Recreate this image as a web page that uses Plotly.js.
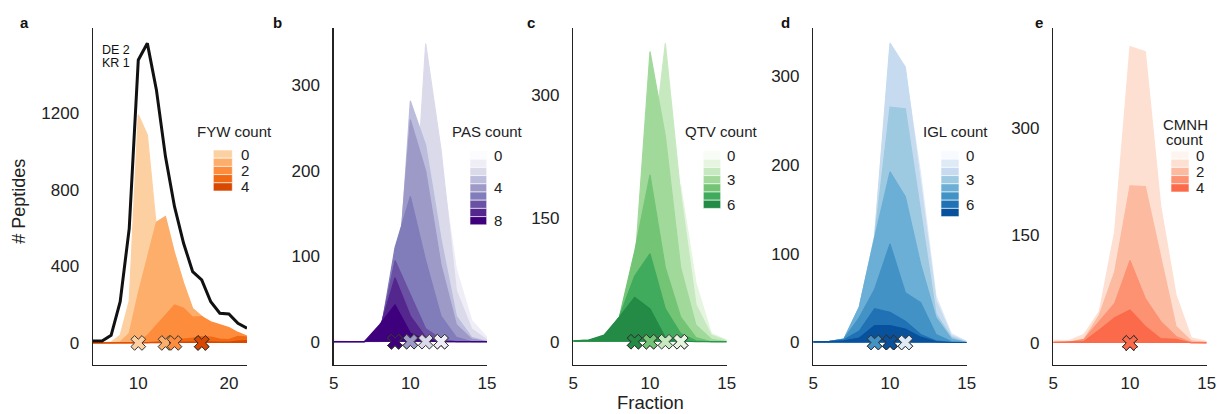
<!DOCTYPE html>
<html><head><meta charset="utf-8">
<script src="https://cdn.plot.ly/plotly-3.0.1.min.js"></script>
<style>html,body{margin:0;padding:0;background:#fff}#chart{width:1219px;height:414px}</style>
</head><body><div id="chart"></div>
<script>
// ---------------- DATA ----------------
const fracA = [5,6,7,8,9,10,11,12,13,14,15,16,17,18,19,20,21,22];
const fracB = [5,6,7,8,9,10,11,12,13,14,15];

// panel a : DE 2 / KR 1 total and FYW count
const totalDE2KR1 = [10,10,40,215,598,1476,1563,1320,972,711,520,372,329,215,155,151,103,77];
const fywLabels = ["0","1","2","3","4"];
const fywCounts = [
  [0,0,5,40,220,1190,1085,600,420,260,160,100,70,50,35,25,18,12],
  [0,0,0,5,50,260,450,630,660,470,313,180,140,100,75,60,40,25],
  [0,0,0,0,0,0,40,90,145,198,181,135,137,110,95,80,55,35],
  [0,0,0,0,0,0,2,6,10,15,20,25,33,30,20,18,35,30],
  [0,0,0,0,0,0,0,1,2,4,5,6,8,6,5,4,10,12]
];
const fywMedian = [10,13,14,17,17];

// panel b : PAS count
const pasLabels = ["0","1","2","3","4","5","6","7","8"];
const pasCounts = [
  [4,1,0,0,0,2,10,40,55,12,3],
  [2,0,0,0,1,15,120,210,85,25,5],
  [0,0,0,0,5,60,349,225,60,15,2],
  [0,0,0,1,15,282,230,120,30,5,0],
  [0,0,0,2,40,260,200,90,20,3,0],
  [0,0,0,5,110,170,95,30,5,0,0],
  [0,0,0,10,95,55,15,3,0,0,0],
  [0,0,0,15,75,30,5,0,0,0,0],
  [0,0,0,20,43,10,2,0,0,0,0]
];
const pasMedian = [12,12,11,10,10,9,9,9,9];

// panel c : QTV count
const qtvLabels = ["0","1","2","3","4","5","6"];
const qtvCounts = [
  [1,0,0,0,2,10,40,60,20,5,1],
  [1,0,1,2,10,60,200,190,71,10,2],
  [1,1,2,5,40,200,363,180,45,8,1],
  [1,1,3,15,90,353,250,90,20,3,0],
  [1,1,5,30,110,203,90,30,5,0,0],
  [1,2,6,30,80,107,40,10,1,0,0],
  [1,2,8,30,54,40,5,1,0,0,0]
];
const qtvMedian = [12,12,11,10,10,9,9];

// panel d : IGL count
const iglLabels = ["0","1","2","3","4","5","6","7"];
const iglCounts = [
  [1,1,2,5,20,60,60,30,10,2,0],
  [1,1,4,40,120,330,305,190,52,10,1],
  [1,1,4,40,120,337,310,180,47,8,1],
  [1,1,4,40,118,265,263,145,32,6,0],
  [1,1,4,40,118,192,164,88,28,4,0],
  [1,1,4,28,60,111,56,45,9,1,0],
  [1,1,3,13,38,34,24,9,2,0,0],
  [1,1,2,5,19,19,15,6,1,0,0]
];
const iglMedian = [11,11,10,10,9,9,10,10];

// panel e : CMNH count
const cmnhLabels = ["0","1","2","3","4"];
const cmnhCounts = [
  [5,3,5,20,60,150,150,80,30,5,2],
  [3,3,12,44,155,413,406,191,67,7,2],
  [1,1,5,39,99,219,218,122,23,3,1],
  [1,1,5,30,55,115,62,30,9,1,0],
  [1,1,2,18,35,46,23,6,5,0,0]
];
const cmnhMedian = [10,10,10,10,10];

// ---------------- STYLE ----------------
const W = 1219, H = 414;
const FONT = "Liberation Sans, Arial, Helvetica, sans-serif";
const oranges = ["#fdd0a2","#fdae6b","#fd8d3c","#f16913","#d94801"];
const purples = ["#fcfbfd","#efedf5","#dadaeb","#bcbddc","#9e9ac8","#807dba","#6a51a3","#54278f","#3f007d"];
const greens  = ["#f7fcf5","#e5f5e0","#c7e9c0","#a1d99b","#74c476","#41ab5d","#238b45"];
const blues   = ["#f7fbff","#deebf7","#c6dbef","#9ecae1","#6baed6","#4292c6","#2171b5","#08519c"];
const reds    = ["#fff5f0","#fee0d2","#fcbba1","#fc9272","#fb6a4a"];

const px = v => v / W;
const py = v => 1 - v / H;

const panels = [
  {key:"", x: fracA, counts: fywCounts, labels: fywLabels, med: fywMedian, colors: oranges,
   dom:[93,247], yr:[-115,1643], yt:[0,400,800,1200], xr:[5,22], xt:[10,20],
   leg:{title:["FYW count"], tx:234.5, ty:[131.7], sx:[213.3,232.3], sy:150, lx:239, show:[0,2,4]},
   letter:{t:"a", x:24.5}},
  {key:"2", x: fracB, counts: pasCounts, labels: pasLabels, med: pasMedian, colors: purples,
   dom:[333.7,487], yr:[-27.3,367.3], yt:[0,100,200,300], xr:[5,15], xt:[5,10,15],
   leg:{title:["PAS count"], tx:487, ty:[131.7], sx:[470,486.7], sy:151, lx:491.7, show:[0,4,8]},
   letter:{t:"b", x:277.7}},
  {key:"3", x: fracB, counts: qtvCounts, labels: qtvLabels, med: qtvMedian, colors: greens,
   dom:[573.3,726.7], yr:[-28.3,381.5], yt:[0,150,300], xr:[5,15], xt:[5,10,15],
   leg:{title:["QTV count"], tx:721, ty:[131.7], sx:[703.3,720.7], sy:151, lx:725, show:[0,3,6]},
   letter:{t:"c", x:531}},
  {key:"4", x: fracB, counts: iglCounts, labels: iglLabels, med: iglMedian, colors: blues,
   dom:[813.3,966.7], yr:[-25.3,354], yt:[0,100,200,300], xr:[5,15], xt:[5,10,15],
   leg:{title:["IGL count"], tx:955.5, ty:[131.7], sx:[941,959], sy:151, lx:964, show:[0,3,6]},
   letter:{t:"d", x:785}},
  {key:"5", x: fracB, counts: cmnhCounts, labels: cmnhLabels, med: cmnhMedian, colors: reds,
   dom:[1053.3,1206.7], yr:[-30.7,438.9], yt:[0,150,300], xr:[5,15], xt:[5,10,15],
   leg:{title:["CMNH","count"], tx:1185, ty:[124.5,139.5], sx:[1171,1189], sy:151, lx:1194.3, show:[0,2,4]},
   letter:{t:"e", x:1039.3}}
];

const traces = [];
const layout = {
  width: W, height: H, margin:{l:0,r:0,t:0,b:0},
  paper_bgcolor:"#fff", plot_bgcolor:"#fff", showlegend:false,
  font:{family: FONT, color:"#222", size:17},
  annotations: [], shapes: []
};
const SW_H = 8.2;

panels.forEach((p, pi) => {
  const xa = "x" + p.key, ya = "y" + p.key;
  p.counts.forEach((vals, i) => {
    traces.push({type:"scatter", mode:"lines", x: p.x, y: vals, xaxis: xa, yaxis: ya,
      fill:"tozeroy", fillcolor: p.colors[i], line:{color: p.colors[i], width:1.2},
      hoverinfo:"skip", name: p.labels[i]});
  });
  if (pi === 0) {
    traces.push({type:"scatter", mode:"lines", x: fracA, y: totalDE2KR1, xaxis: xa, yaxis: ya,
      line:{color:"#111", width:3}, hoverinfo:"skip", name:"DE 2 KR 1"});
  }
  traces.push({type:"scatter", mode:"markers", x: p.med, y: p.med.map(() => 0), xaxis: xa, yaxis: ya,
    marker:{symbol:"x", size:13, color: p.colors.slice(0, p.med.length), line:{color:"#333", width:1}},
    hoverinfo:"skip", cliponaxis:false});

  const axCommon = {showgrid:false, zeroline:false, showline:true, linecolor:"#222", linewidth:1.4,
    ticks:"", tickfont:{size:17, color:"#222", family:FONT}, fixedrange:true};
  layout["xaxis" + p.key] = Object.assign({}, axCommon, {domain:[px(p.dom[0]), px(p.dom[1])],
    range: p.xr, tickvals: p.xt, anchor: ya, ticklabelstandoff: 2});
  layout["yaxis" + p.key] = Object.assign({}, axCommon, {domain:[py(365), py(28)],
    range: p.yr, tickvals: p.yt, anchor: xa, ticklabelstandoff: 9});

  // legend
  const L = p.leg;
  L.title.forEach((t, k) => layout.annotations.push({xref:"paper", yref:"paper", x: px(L.tx), y: py(L.ty[k]),
    text: t, showarrow:false, xanchor:"center", yanchor:"middle", font:{size:15, color:"#222"}}));
  p.colors.forEach((c, i) => {
    const y0 = L.sy + i * SW_H, y1 = y0 + SW_H;
    layout.shapes.push({type:"rect", xref:"paper", yref:"paper", x0: px(L.sx[0]), x1: px(L.sx[1]),
      y0: py(y1), y1: py(y0), fillcolor: c, line:{width:0.6, color:"#fff"}});
    if (L.show.includes(i)) {
      layout.annotations.push({xref:"paper", yref:"paper", x: px(L.lx), y: py((y0+y1)/2),
        text: p.labels[i], showarrow:false, xanchor:"left", yanchor:"middle", font:{size:15, color:"#222"}});
    }
  });
  // panel letter
  layout.annotations.push({xref:"paper", yref:"paper", x: px(p.letter.x), y: py(22.7), text:"<b>"+p.letter.t+"</b>",
    showarrow:false, xanchor:"center", yanchor:"middle", font:{size:15, color:"#111"}});
});

// DE 2 / KR 1 label
layout.annotations.push({xref:"paper", yref:"paper", x: px(99.5), y: py(50), text:"DE 2", showarrow:false,
  xanchor:"left", yanchor:"middle", font:{size:12.5, color:"#111"}});
layout.annotations.push({xref:"paper", yref:"paper", x: px(99.5), y: py(62.5), text:"KR 1", showarrow:false,
  xanchor:"left", yanchor:"middle", font:{size:12.5, color:"#111"}});
// axis titles
layout.annotations.push({xref:"paper", yref:"paper", x: px(19), y: py(201.7), text:"# Peptides", textangle:-90,
  showarrow:false, xanchor:"center", yanchor:"middle", font:{size:18, color:"#222"}});
layout.annotations.push({xref:"paper", yref:"paper", x: px(650.5), y: 0, text:"Fraction",
  showarrow:false, xanchor:"center", yanchor:"bottom", borderpad:0, font:{size:18.5, color:"#222"}});

Plotly.newPlot("chart", traces, layout, {staticPlot:true, displayModeBar:false});
</script>
</body></html>
